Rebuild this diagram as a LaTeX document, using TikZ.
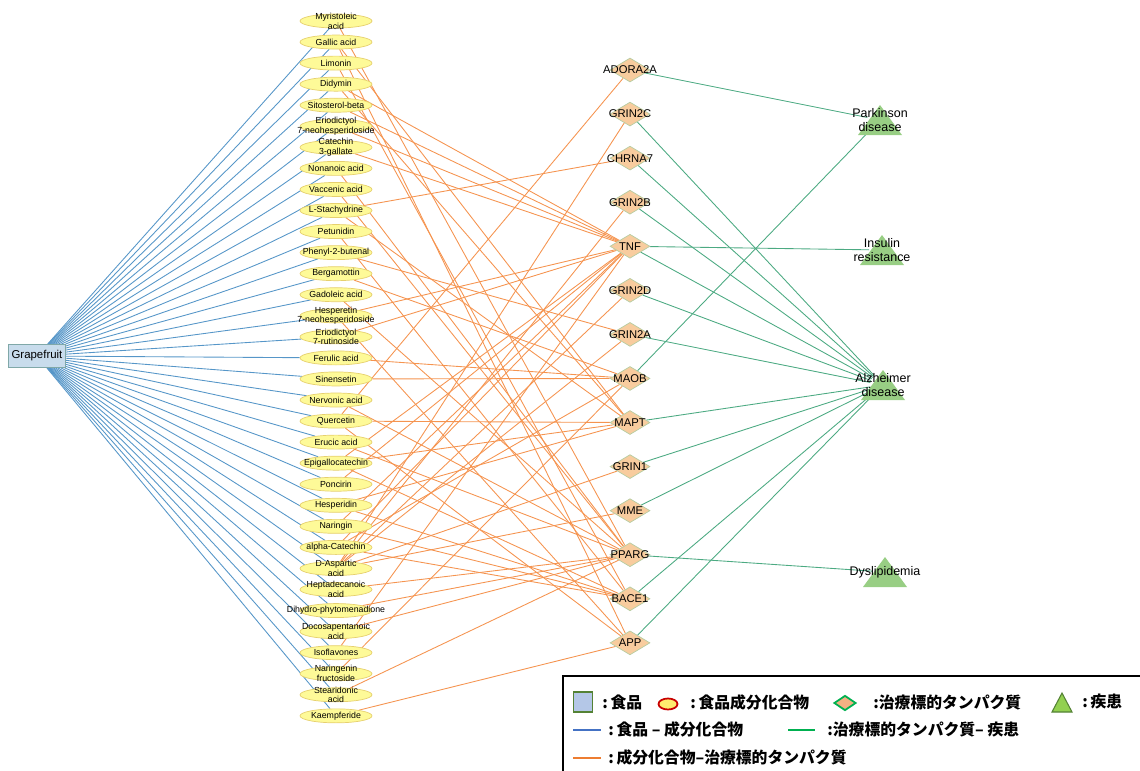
\documentclass[tikz,border=0pt]{standalone}
\usepackage{fontspec}
\setmainfont{Liberation Sans}
\newfontfamily\jpfont{Noto Sans CJK JP}
\usetikzlibrary{shapes.geometric,backgrounds}

\definecolor{foodfill}{RGB}{200,220,236}
\definecolor{foodline}{RGB}{128,168,168}
\definecolor{compfill}{RGB}{254,250,152}
\definecolor{compline}{RGB}{230,208,110}
\definecolor{protfill}{RGB}{248,204,158}
\definecolor{protline}{RGB}{182,204,162}
\definecolor{trifill}{RGB}{152,206,132}
\definecolor{fcline}{RGB}{86,150,200}
\definecolor{ctline}{RGB}{245,148,80}
\definecolor{tdline}{RGB}{76,170,130}
\definecolor{legfoodfill}{RGB}{180,199,231}
\definecolor{legfoodline}{RGB}{84,130,53}
\definecolor{legcompfill}{RGB}{255,236,110}
\definecolor{legcompline}{RGB}{200,0,0}
\definecolor{legprotfill}{RGB}{244,177,131}
\definecolor{leggreen}{RGB}{0,176,80}
\definecolor{legtrifill}{RGB}{146,208,80}
\definecolor{legblue}{RGB}{68,114,196}
\definecolor{legorange}{RGB}{237,125,49}

\begin{document}
\begin{tikzpicture}[x=0.02cm, y=-0.02cm,
food/.style = {draw=foodline, fill=foodfill, rectangle, minimum width=1.14cm, minimum height=0.46cm, inner sep=0pt, font=\fontsize{6.5}{7}\selectfont},
comp/.style = {draw=compline, fill=compfill, ellipse, minimum width=1.44cm, minimum height=0.28cm, inner sep=0pt, node distance=0.4212cm, label={[ctext]center:#1}},
ctext/.style = {align=center, inner sep=0pt, font=\fontsize{5}{5.6}\selectfont},
prot/.style = {draw=protline, fill=protfill, diamond, minimum width=0.8cm, minimum height=0.48cm, inner sep=0pt, node distance=0.8815cm, label={[ptext]center:#1}},
ptext/.style = {inner sep=0pt, font=\fontsize{6.4}{7}\selectfont},
dis/.style = {circle, minimum size=0.5cm, inner sep=0pt, label={[dtext]center:#1}},
dtext/.style = {align=center, inner sep=0pt, font=\fontsize{7.1}{7.5}\selectfont},
tri/.style = {fill=trifill},
fc/.style = {fcline, line width=0.5pt},
ct/.style = {ctline, line width=0.5pt},
td/.style = {tdline, line width=0.5pt},
legtext/.style = {anchor=west, inner sep=0pt, font=\jpfont\bfseries\fontsize{9}{10}\selectfont},
legline/.style = {line width=1pt}
]
\useasboundingbox (0,0) rectangle (1140,771);

    % food
    \node [food] (grape) at (37,356) {Grapefruit};

    % compounds
    \node [comp={Myristoleic\\acid}] (myris) at (336,21) {};
    \node [comp={Gallic acid}, below of=myris] (gallic) {};
    \node [comp={Limonin}, below of=gallic] (limon) {};
    \node [comp={Didymin}, below of=limon] (didy) {};
    \node [comp={Sitosterol-beta}, below of=didy] (sito) {};
    \node [comp={Eriodictyol\\7-neohesperidoside}, below of=sito] (eriod) {};
    \node [comp={Catechin\\3-gallate}, below of=eriod] (catg) {};
    \node [comp={Nonanoic acid}, below of=catg] (nonan) {};
    \node [comp={Vaccenic acid}, below of=nonan] (vacc) {};
    \node [comp={L-Stachydrine}, below of=vacc] (stach) {};
    \node [comp={Petunidin}, below of=stach] (petu) {};
    \node [comp={Phenyl-2-butenal}, below of=petu] (phen) {};
    \node [comp={Bergamottin}, below of=phen] (berg) {};
    \node [comp={Gadoleic acid}, below of=berg] (gadol) {};
    \node [comp={Hesperetin\\7-neohesperidoside}, below of=gadol] (hesp) {};
    \node [comp={Eriodictyol\\7-rutinoside}, below of=hesp] (eriodr) {};
    \node [comp={Ferulic acid}, below of=eriodr] (ferul) {};
    \node [comp={Sinensetin}, below of=ferul] (sinen) {};
    \node [comp={Nervonic acid}, below of=sinen] (nervo) {};
    \node [comp={Quercetin}, below of=nervo] (querc) {};
    \node [comp={Erucic acid}, below of=querc] (eruc) {};
    \node [comp={Epigallocatechin}, below of=eruc] (epig) {};
    \node [comp={Poncirin}, below of=epig] (ponc) {};
    \node [comp={Hesperidin}, below of=ponc] (hespd) {};
    \node [comp={Naringin}, below of=hespd] (naring) {};
    \node [comp={alpha-Catechin}, below of=naring] (acat) {};
    \node [comp={D-Aspartic\\acid}, below of=acat] (dasp) {};
    \node [comp={Heptadecanoic\\acid}, below of=dasp] (hepta) {};
    \node [comp={Dihydro-phytomenadione}, below of=hepta] (dihyd) {};
    \node [comp={Docosapentanoic\\acid}, below of=dihyd] (docos) {};
    \node [comp={Isoflavones}, below of=docos] (isofl) {};
    \node [comp={Naringenin\\fructoside}, below of=isofl] (narf) {};
    \node [comp={Stearidonic\\acid}, below of=narf] (stear) {};
    \node [comp={Kaempferide}, below of=stear] (kaemp) {};

    % target proteins
    \node [prot={ADORA2A}] (adora) at (630,70) {};
    \node [prot={GRIN2C}, below of=adora] (grin2c) {};
    \node [prot={CHRNA7}, below of=grin2c] (chrna) {};
    \node [prot={GRIN2B}, below of=chrna] (grin2b) {};
    \node [prot={TNF}, below of=grin2b] (tnf) {};
    \node [prot={GRIN2D}, below of=tnf] (grin2d) {};
    \node [prot={GRIN2A}, below of=grin2d] (grin2a) {};
    \node [prot={MAOB}, below of=grin2a] (maob) {};
    \node [prot={MAPT}, below of=maob] (mapt) {};
    \node [prot={GRIN1}, below of=mapt] (grin1) {};
    \node [prot={MME}, below of=grin1] (mme) {};
    \node [prot={PPARG}, below of=mme] (pparg) {};
    \node [prot={BACE1}, below of=pparg] (bace) {};
    \node [prot={APP}, below of=bace] (app) {};

    % diseases
    \fill [tri] (858,135) -- (902,135) -- (880,105) -- cycle;
    \fill [tri] (860,265) -- (904,265) -- (882,235) -- cycle;
    \fill [tri] (861,400) -- (905,400) -- (883,370) -- cycle;
    \fill [tri] (863,587) -- (907,587) -- (885,557) -- cycle;
    \node [dis={Parkinson\\disease}] (park) at (880,120) {};
    \node [dis={Insulin\\resistance}] (ins) at (882,250) {};
    \node [dis={Alzheimer\\disease}] (alz) at (883,385) {};
    \node [dis={Dyslipidemia}] (dys) at (885,572) {};

    \begin{scope}[on background layer]
    \draw [fc] (grape) -- (myris);
    \draw [fc] (grape) -- (gallic);
    \draw [fc] (grape) -- (limon);
    \draw [fc] (grape) -- (didy);
    \draw [fc] (grape) -- (sito);
    \draw [fc] (grape) -- (eriod);
    \draw [fc] (grape) -- (catg);
    \draw [fc] (grape) -- (nonan);
    \draw [fc] (grape) -- (vacc);
    \draw [fc] (grape) -- (stach);
    \draw [fc] (grape) -- (petu);
    \draw [fc] (grape) -- (phen);
    \draw [fc] (grape) -- (berg);
    \draw [fc] (grape) -- (gadol);
    \draw [fc] (grape) -- (hesp);
    \draw [fc] (grape) -- (eriodr);
    \draw [fc] (grape) -- (ferul);
    \draw [fc] (grape) -- (sinen);
    \draw [fc] (grape) -- (nervo);
    \draw [fc] (grape) -- (querc);
    \draw [fc] (grape) -- (eruc);
    \draw [fc] (grape) -- (epig);
    \draw [fc] (grape) -- (ponc);
    \draw [fc] (grape) -- (hespd);
    \draw [fc] (grape) -- (naring);
    \draw [fc] (grape) -- (acat);
    \draw [fc] (grape) -- (dasp);
    \draw [fc] (grape) -- (hepta);
    \draw [fc] (grape) -- (dihyd);
    \draw [fc] (grape) -- (docos);
    \draw [fc] (grape) -- (isofl);
    \draw [fc] (grape) -- (narf);
    \draw [fc] (grape) -- (stear);
    \draw [fc] (grape) -- (kaemp);

    \draw [ct] (didy) -- (tnf);
    \draw [ct] (sito) -- (tnf);
    \draw [ct] (eriod) -- (tnf);
    \draw [ct] (catg) -- (tnf);
    \draw [ct] (hesp) -- (tnf);
    \draw [ct] (eriodr) -- (tnf);
    \draw [ct] (epig) -- (tnf);
    \draw [ct] (ponc) -- (tnf);
    \draw [ct] (naring) -- (tnf);
    \draw [ct] (acat) -- (tnf);
    \draw [ct] (isofl) -- (tnf);
    \draw [ct] (myris) -- (pparg);
    \draw [ct] (nonan) -- (pparg);
    \draw [ct] (vacc) -- (pparg);
    \draw [ct] (gadol) -- (pparg);
    \draw [ct] (nervo) -- (pparg);
    \draw [ct] (eruc) -- (pparg);
    \draw [ct] (hepta) -- (pparg);
    \draw [ct] (dihyd) -- (pparg);
    \draw [ct] (docos) -- (pparg);
    \draw [ct] (stear) -- (pparg);
    \draw [ct] (ferul) -- (maob);
    \draw [ct] (sinen) -- (maob);
    \draw [ct] (berg) -- (maob);
    \draw [ct] (narf) -- (maob);
    \draw [ct] (acat) -- (maob);
    \draw [ct] (gallic) -- (mapt);
    \draw [ct] (didy) -- (mapt);
    \draw [ct] (stach) -- (mapt);
    \draw [ct] (querc) -- (mapt);
    \draw [ct] (epig) -- (mapt);
    \draw [ct] (hespd) -- (mapt);
    \draw [ct] (limon) -- (bace);
    \draw [ct] (petu) -- (bace);
    \draw [ct] (epig) -- (bace);
    \draw [ct] (hespd) -- (bace);
    \draw [ct] (naring) -- (bace);
    \draw [ct] (acat) -- (bace);
    \draw [ct] (gallic) -- (app);
    \draw [ct] (hesp) -- (app);
    \draw [ct] (querc) -- (app);
    \draw [ct] (kaemp) -- (app);
    \draw [ct] (dasp) -- (grin1);
    \draw [ct] (dasp) -- (grin2a);
    \draw [ct] (dasp) -- (grin2b);
    \draw [ct] (dasp) -- (grin2c);
    \draw [ct] (dasp) -- (grin2d);
    \draw [ct] (dasp) -- (mme);
    \draw [ct] (phen) -- (grin2a);
    \draw [ct] (stach) -- (chrna);
    \draw [ct] (querc) -- (adora);

    \draw [td] (adora) -- (park);
    \draw [td] (maob) -- (park);
    \draw [td] (tnf) -- (ins);
    \draw [td] (grin2c) -- (alz);
    \draw [td] (chrna) -- (alz);
    \draw [td] (grin2b) -- (alz);
    \draw [td] (tnf) -- (alz);
    \draw [td] (grin2d) -- (alz);
    \draw [td] (grin2a) -- (alz);
    \draw [td] (mapt) -- (alz);
    \draw [td] (grin1) -- (alz);
    \draw [td] (mme) -- (alz);
    \draw [td] (bace) -- (alz);
    \draw [td] (app) -- (alz);
    \draw [td] (pparg) -- (dys);
    \end{scope}

    % legend
    \draw [black, line width=0.8pt] (563,780) -- (563,676) -- (1145,676);
    \node [draw=legfoodline, fill=legfoodfill, line width=1pt, minimum width=0.38cm, minimum height=0.4cm, inner sep=0pt] (lfood) at (583,702) {};
    \node [legtext] (lfoodt) at (602,702) {:\,食品};
    \node [ellipse, draw=legcompline, fill=legcompfill, line width=1pt, minimum width=0.38cm, minimum height=0.22cm, inner sep=0pt] (lcomp) at (668,704) {};
    \node [legtext] (lcompt) at (690,702) {:\,食品成分化合物};
    \node [diamond, draw=leggreen, fill=legprotfill, line width=1pt, minimum width=0.44cm, minimum height=0.3cm, inner sep=0pt] (lprot) at (845,703) {};
    \node [legtext] (lprott) at (873,702) {:治療標的タンパク質};
    \filldraw [draw=legfoodline, fill=legtrifill, line width=0.6pt] (1052,712) -- (1072,712) -- (1062,693) -- cycle;
    \node [legtext] (ldist) at (1082,702) {:\,疾患};
    \draw [legline, legblue] (573,730) -- (601,730);
    \node [legtext] (lfct) at (608,729) {:\,食品 – 成分化合物};
    \draw [legline, leggreen] (788,730) -- (815,730);
    \node [legtext] (ltdt) at (827,729) {:治療標的タンパク質– 疾患};
    \draw [legline, legorange] (573,758) -- (601,758);
    \node [legtext] (lctt) at (608,757) {:\,成分化合物–治療標的タンパク質};

\end{tikzpicture}
\end{document}
